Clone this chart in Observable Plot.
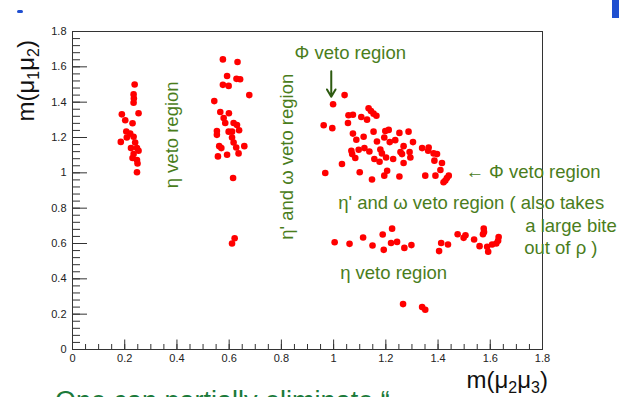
<!DOCTYPE html>
<html><head><meta charset="utf-8">
<script src="https://cdn.jsdelivr.net/npm/d3@7"></script>
<script src="https://cdn.jsdelivr.net/npm/@observablehq/plot@0.6"></script>
<style>
html,body{margin:0;padding:0;background:#fff;overflow:hidden;width:619px;height:397px;}
#wrap{position:relative;width:619px;height:397px;}
.blue1{position:absolute;left:17px;top:10px;width:6px;height:3px;background:#1f4fd0;border-radius:2px;}
.blue2{position:absolute;left:612px;top:0;width:7px;height:18px;background:#1f4fd0;}
</style></head><body><div id="wrap"><div class="blue1"></div><div class="blue2"></div></div>
<script>
// ---- data (m(mu2mu3), m(mu1mu2)) ----
const etaBandX = [0.238,0.234,0.235,0.234,0.189,0.253,0.202,0.230,0.206,0.221,0.208,0.234,0.185,0.240,0.224,0.247,0.253,0.234,0.230,0.247,0.249,0.247];
const etaBandY = [1.500,1.444,1.421,1.397,1.331,1.337,1.298,1.281,1.234,1.222,1.200,1.204,1.175,1.172,1.140,1.140,1.125,1.106,1.084,1.073,1.053,1.003];

const omegaBandX = [0.576,0.632,0.592,0.628,0.642,0.576,0.598,0.677,0.543,0.566,0.599,0.579,0.585,0.617,0.630,0.553,0.553,0.598,0.611,0.638,0.611,0.617,0.562,0.570,0.627,0.658,0.636,0.592,0.557,0.615,0.621,0.611];
const omegaBandY = [1.642,1.627,1.548,1.532,1.530,1.498,1.492,1.440,1.406,1.344,1.337,1.310,1.282,1.282,1.271,1.237,1.215,1.233,1.233,1.241,1.200,1.172,1.151,1.140,1.143,1.151,1.110,1.102,1.093,0.971,0.630,0.600];

const upperX = [1.042,0.998,1.134,1.143,1.153,1.164,1.057,1.074,1.106,1.128,1.055,0.962,0.995,1.074,1.153,1.198,1.211,1.252,1.287,1.115,1.087,1.194,1.166,1.215,1.236,1.304,1.268,1.068,1.071,1.096,1.118,1.137,1.179,1.185,1.291,1.256,1.262,1.339,1.364,1.362,1.383,1.396,1.083,1.156,1.176,1.201,1.228,1.268,1.294,1.386,1.415,1.032,0.968,1.100,1.205,1.194,1.147,1.252,1.351,1.390,1.409,1.441,1.434,1.428,1.421];
const upperY = [1.440,1.388,1.365,1.350,1.335,1.323,1.326,1.329,1.316,1.301,1.282,1.269,1.253,1.222,1.233,1.237,1.243,1.226,1.233,1.204,1.187,1.200,1.177,1.174,1.185,1.174,1.151,1.125,1.106,1.131,1.140,1.121,1.132,1.110,1.118,1.118,1.106,1.140,1.143,1.125,1.110,1.106,1.084,1.078,1.063,1.087,1.078,1.056,1.087,1.069,1.056,1.050,0.999,1.003,1.012,0.984,0.962,0.979,0.984,0.984,1.016,0.984,0.971,0.956,0.947];

const lowerX = [1.004,1.061,1.113,1.149,1.188,1.224,1.220,1.243,1.192,1.271,1.298,1.412,1.438,1.404,1.475,1.498,1.505,1.538,1.559,1.575,1.576,1.572,1.588,1.592,1.607,1.623,1.632,1.630,1.266,1.339,1.351];
const lowerY = [0.607,0.598,0.634,0.589,0.651,0.684,0.603,0.609,0.564,0.575,0.591,0.603,0.594,0.557,0.652,0.632,0.647,0.623,0.585,0.684,0.665,0.652,0.581,0.553,0.594,0.600,0.637,0.615,0.257,0.240,0.225];

const xTicks = [0,0.2,0.4,0.6,0.8,1,1.2,1.4,1.6,1.8];
const xTickLabels = ["0","0.2","0.4","0.6","0.8","1","1.2","1.4","1.6","1.8"];
const yTicks = [0,0.2,0.4,0.6,0.8,1,1.2,1.4,1.6,1.8];
const yTickLabels = ["0","0.2","0.4","0.6","0.8","1","1.2","1.4","1.6","1.8"];

const centerNoteText = ["Φ veto region"];
const centerNoteX = [1.064];
const centerNoteY = [1.676];

const leftNoteText = ["← Φ veto region","η' and ω veto region ( also takes","a large bite","out of ρ )","η veto region"];
const leftNoteX = [1.505,1.018,1.734,1.730,1.025];
const leftNoteY = [1.007,0.827,0.697,0.574,0.433];

const vNoteText = ["η veto region","η' and ω veto region"];
const vNoteX = [0.383,0.822];
const vNoteY = [1.215,1.091];

const arrowX = [0.991];
const arrowY1 = [1.575];
const arrowY2 = [1.43];

// ---- build tables ----
const points = [];
[[etaBandX,etaBandY],[omegaBandX,omegaBandY],[upperX,upperY],[lowerX,lowerY]].forEach(([xs,ys]) => xs.forEach((x,i) => points.push({x, y: ys[i]})));
const cnotes = centerNoteText.map((t,i) => ({t, x: centerNoteX[i], y: centerNoteY[i]}));
const lnotes = leftNoteText.map((t,i) => ({t, x: leftNoteX[i], y: leftNoteY[i]}));
const vnotes = vNoteText.map((t,i) => ({t, x: vNoteX[i], y: vNoteY[i]}));
const arrows = arrowX.map((x,i) => ({x, y1: arrowY1[i], y2: arrowY2[i]}));
const xMinor = d3.range(0, 1.8001, 0.05);
const yMinor = d3.range(0, 1.8001, 0.04);

const green = "#4a7d1c";
const font = "'Liberation Sans', Arial, Helvetica, sans-serif";

const plot = Plot.plot({
  width: 619, height: 397,
  marginLeft: 72, marginRight: 77, marginTop: 31, marginBottom: 48,
  x: {domain: [0, 1.8]},
  y: {domain: [0, 1.8]},
  style: {fontFamily: font, fontSize: "11px", color: "#222", background: "transparent", overflow: "visible"},
  marks: [
    Plot.axisX({ticks: xMinor, tickSize: -5, tickFormat: () => "", label: null, stroke: "#333"}),
    Plot.axisX({ticks: xTicks, tickSize: -9.5, tickFormat: () => "", label: null, stroke: "#333"}),
    Plot.axisX({ticks: xTicks, tickSize: 0, tickPadding: 5, tickFormat: d => xTickLabels[xTicks.indexOf(d)], label: null}),
    Plot.axisY({ticks: yMinor, tickSize: -8, tickFormat: () => "", label: null, stroke: "#333"}),
    Plot.axisY({ticks: yTicks, tickSize: -15, tickFormat: () => "", label: null, stroke: "#333"}),
    Plot.axisY({ticks: yTicks, tickSize: 0, tickPadding: 6, tickFormat: d => yTickLabels[yTicks.indexOf(d)], label: null}),
    Plot.frame({stroke: "#333"}),
    Plot.dot(points, {x: "x", y: "y", r: 3.3, fill: "#ff0000", stroke: "none"}),
    Plot.text(cnotes, {x: "x", y: "y", text: "t", textAnchor: "middle", fill: green, fontSize: 18.5, fontFamily: font}),
    Plot.text(lnotes, {x: "x", y: "y", text: "t", textAnchor: "start", fill: green, fontSize: 18.5, fontFamily: font}),
    Plot.text(vnotes, {x: "x", y: "y", text: "t", rotate: -90, fill: green, fontSize: 18.5, fontFamily: font}),
    Plot.arrow(arrows, {x1: "x", x2: "x", y1: "y1", y2: "y2", stroke: "#2d5a10", strokeWidth: 2, headLength: 7})
  ]
});
document.getElementById("wrap").appendChild(plot);
plot.style.position = "absolute"; plot.style.left = "0"; plot.style.top = "0";

const svg = d3.select(plot);
const sx = plot.scale("x"), sy = plot.scale("y");

const xt = svg.append("text")
  .attr("x", sx.apply(1.8) + 6).attr("y", 388)
  .attr("text-anchor", "end").attr("font-size", 24).attr("fill", "#111").attr("font-family", font);
xt.append("tspan").text("m(μ");
xt.append("tspan").text("2").attr("font-size", "16").attr("dy", "5");
xt.append("tspan").text("μ").attr("dy", "-5");
xt.append("tspan").text("3").attr("font-size", "16").attr("dy", "5");
xt.append("tspan").text(")").attr("dy", "-5");

const yt = svg.append("text")
  .attr("transform", `translate(34,${sy.apply(1.8) + 9}) rotate(-90)`)
  .attr("text-anchor", "end").attr("font-size", 24).attr("fill", "#111").attr("font-family", font);
yt.append("tspan").text("m(μ");
yt.append("tspan").text("1").attr("font-size", "16").attr("dy", "5");
yt.append("tspan").text("μ").attr("dy", "-5");
yt.append("tspan").text("2").attr("font-size", "16").attr("dy", "5");
yt.append("tspan").text(")").attr("dy", "-5");

svg.append("text").attr("x", 55).attr("y", 410).attr("font-size", 27).attr("fill", "#1b7a3a")
  .attr("text-anchor", "start").attr("font-family", font).text("One can partially eliminate “");
</script>
</body></html>
